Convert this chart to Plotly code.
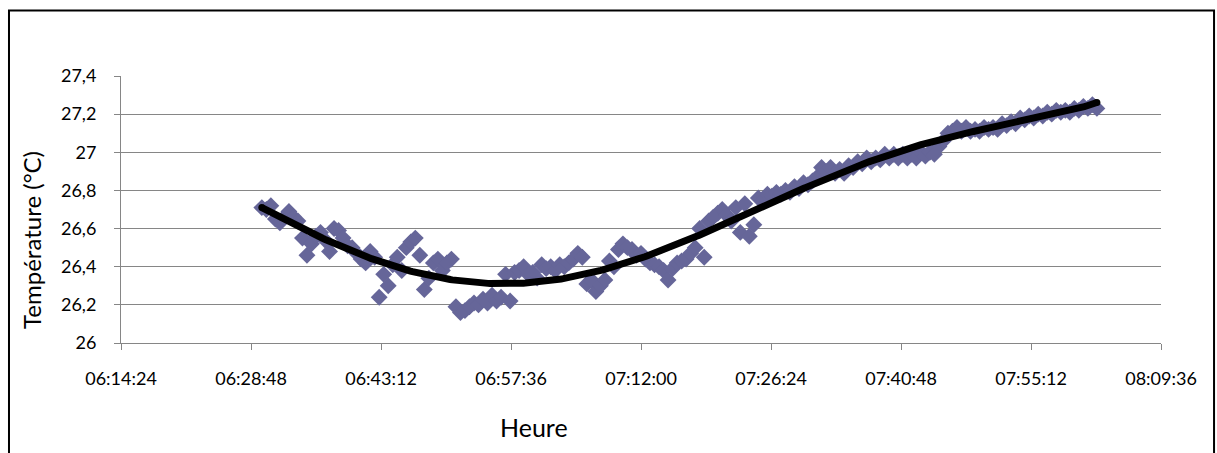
import numpy as np
import pandas as pd
import plotly.graph_objects as go

# Temperature log, one reading every 30 s starting at 06:30:00
START = "2000-01-01 06:30:00"
SAMPLE_PERIOD = "30s"
temperature = [
    26.71, 26.70, 26.72, 26.65, 26.63, 26.66, 26.69, 26.66, 26.64, 26.55,
    26.46, 26.52, 26.56, 26.58, 26.54, 26.48, 26.60, 26.59, 26.55, 26.51,
    26.50, 26.47, 26.44, 26.42, 26.48, 26.45, 26.24, 26.36, 26.30, 26.41,
    26.45, 26.38, 26.50, 26.53, 26.55, 26.46, 26.28, 26.34, 26.42, 26.44,
    26.38, 26.42, 26.44, 26.19, 26.16, 26.17, 26.19, 26.21, 26.20, 26.23,
    26.21, 26.25, 26.22, 26.24, 26.36, 26.22, 26.37, 26.38, 26.40, 26.36,
    26.37, 26.34, 26.41, 26.39, 26.40, 26.38, 26.41, 26.40, 26.42, 26.44,
    26.47, 26.45, 26.31, 26.33, 26.27, 26.30, 26.33, 26.43, 26.40, 26.49,
    26.52, 26.50, 26.49, 26.46, 26.47, 26.44, 26.42, 26.41, 26.40, 26.38,
    26.33, 26.39, 26.42, 26.43, 26.44, 26.47, 26.50, 26.60, 26.45, 26.64,
    26.66, 26.68, 26.70, 26.67, 26.64, 26.71, 26.58, 26.73, 26.56, 26.62,
    26.76, 26.75, 26.78, 26.77, 26.79, 26.78, 26.80, 26.79, 26.82, 26.81,
    26.84, 26.83, 26.85, 26.87, 26.92, 26.90, 26.92, 26.89, 26.91, 26.89,
    26.93, 26.92, 26.95, 26.94, 26.97, 26.95, 26.97, 26.96, 26.99, 26.97,
    26.99, 26.97, 26.99, 26.97, 26.99, 26.97, 27.00, 26.98, 27.00, 26.99,
    27.03, 27.06, 27.10, 27.11, 27.13, 27.11, 27.13, 27.11, 27.12, 27.11,
    27.13, 27.12, 27.13, 27.12, 27.15, 27.14, 27.16, 27.15, 27.18, 27.17,
    27.19, 27.18, 27.20, 27.19, 27.21, 27.20, 27.22, 27.21, 27.22, 27.21,
    27.23, 27.22, 27.24, 27.23, 27.25, 27.23,
]

x_tick_labels = ["06:14:24", "06:28:48", "06:43:12", "06:57:36", "07:12:00",
                 "07:26:24", "07:40:48", "07:55:12", "08:09:36"]
y_tick_values = [26.0, 26.2, 26.4, 26.6, 26.8, 27.0, 27.2, 27.4]
y_tick_labels = ["26", "26,2", "26,4", "26,6", "26,8", "27", "27,2", "27,4"]

DAY = "2000-01-01 "
times = pd.date_range(START, periods=len(temperature), freq=SAMPLE_PERIOD)
x_tick_values = [DAY + s for s in x_tick_labels]

# Polynomial trend line (order 6) fitted to the readings
TREND_DEGREE = 6
t_sec = (times - times[0]).total_seconds().to_numpy()
t_scaled = t_sec / t_sec[-1]
coef = np.polyfit(t_scaled, np.array(temperature), TREND_DEGREE)
s_fit = np.linspace(0.0, 1.0, 400)
fit_times = times[0] + pd.to_timedelta(s_fit * t_sec[-1], unit="s")
fit_vals = np.polyval(coef, s_fit)

FONT = "Lato"
GRID = "#868686"
MARKER = "#666699"

fig = go.Figure()
fig.add_trace(go.Scatter(
    x=times, y=temperature, mode="markers",
    marker=dict(symbol="diamond", size=13, color=MARKER, line=dict(width=0)),
    showlegend=False, hoverinfo="x+y",
))
fig.add_trace(go.Scatter(
    x=fit_times, y=fit_vals, mode="lines",
    line=dict(color="black", width=7),
    showlegend=False, hoverinfo="skip",
))
# rounded ends of the trend line
fig.add_trace(go.Scatter(
    x=[fit_times[0], fit_times[-1]], y=[fit_vals[0], fit_vals[-1]], mode="markers",
    marker=dict(symbol="circle", size=7, color="black", line=dict(width=0)),
    showlegend=False, hoverinfo="skip",
))

fig.update_layout(
    width=1217, height=453,
    margin=dict(l=121, r=56, t=76, b=110),
    paper_bgcolor="white", plot_bgcolor="white",
    font=dict(family=FONT, size=18, color="black"),
    xaxis=dict(
        type="date", range=[x_tick_values[0], x_tick_values[-1]],
        tickmode="array", tickvals=x_tick_values, ticktext=x_tick_labels,
        showgrid=False, zeroline=False,
        showline=True, linecolor=GRID, linewidth=1,
        ticks="outside", ticklen=6, tickcolor=GRID,
        ticklabelstandoff=13,
        tickfont=dict(family=FONT, size=18, color="black"),
    ),
    yaxis=dict(
        range=[26.0, 27.4],
        tickmode="array", tickvals=y_tick_values, ticktext=y_tick_labels,
        showgrid=True, gridcolor=GRID, gridwidth=1, zeroline=False,
        showline=True, linecolor=GRID, linewidth=1,
        ticks="outside", ticklen=6, tickcolor=GRID,
        ticklabelstandoff=14,
        tickfont=dict(family=FONT, size=18, color="black"),
    ),
    annotations=[
        dict(text="Température (°C)", xref="paper", yref="paper",
             x=-0.0856, y=0.386, xanchor="center", yanchor="middle",
             textangle=-90, showarrow=False,
             font=dict(family=FONT, size=24, color="black")),
        dict(text="Heure", xref="paper", yref="paper",
             x=0.397, y=-0.315, xanchor="center", yanchor="middle",
             showarrow=False, font=dict(family=FONT, size=25, color="black")),
    ],
    shapes=[
        dict(type="rect", xref="paper", yref="paper",
             x0=-0.1077, x1=1.0510, y0=-0.6, y1=1.2453,
             line=dict(color="black", width=2), fillcolor="rgba(0,0,0,0)",
             layer="above"),
    ],
)

fig.write_html("out.html")
